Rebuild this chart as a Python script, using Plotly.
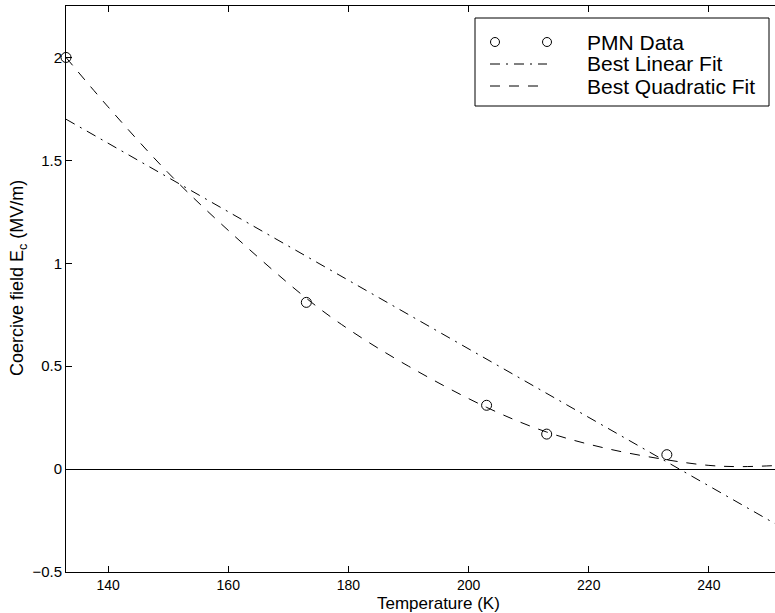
import plotly.graph_objects as go

# ---- data ----
temperature = [133, 173, 203, 213, 233]
coercive_field = [2.00, 0.81, 0.31, 0.17, 0.07]

linear_fit_x = [133, 251]
linear_fit_y = [1.70, -0.265]

quad_fit_x = [133, 140, 150, 160, 173, 180, 190, 203, 213, 223, 233, 240, 245, 251]
quad_fit_y = [2.00, 1.76, 1.44, 1.16, 0.83, 0.68, 0.50, 0.30, 0.18, 0.10, 0.045, 0.018, 0.012, 0.017]

x_ticks = [140, 160, 180, 200, 220, 240]
y_ticks = [-0.5, 0, 0.5, 1, 1.5, 2]
y_tick_text = ["\u22120.5", "0", "0.5", "1", "1.5", "2"]

legend_labels = ["PMN Data", "Best Linear Fit", "Best Quadratic Fit"]

FONT = "Liberation Sans, Arial, Helvetica, sans-serif"
W, H = 775, 613
L, R, T, B = 66, 0, 6, 41
PW, PH = W - L - R, H - T - B


def px(p):
    return (p - L) / PW


def py(p):
    return (H - B - p) / PH


fig = go.Figure()

fig.add_trace(go.Scatter(
    x=linear_fit_x, y=linear_fit_y, mode="lines",
    line=dict(color="black", width=1, dash="10px,6px,2px,6px"),
    showlegend=False, hoverinfo="skip"))

fig.add_trace(go.Scatter(
    x=quad_fit_x, y=quad_fit_y, mode="lines",
    line=dict(color="black", width=1, dash="10px,9px", shape="spline", smoothing=1.0),
    showlegend=False, hoverinfo="skip"))

fig.add_trace(go.Scatter(
    x=temperature, y=coercive_field, mode="markers",
    marker=dict(symbol="circle-open", size=10, color="black", line=dict(width=1)),
    cliponaxis=False, showlegend=False))

# ---- custom MATLAB-style legend ----
shapes = []
box = (475, 18, 769, 106)
shapes.append(dict(type="rect", xref="paper", yref="paper",
                   x0=px(box[0]), x1=px(box[2]), y0=py(box[1]), y1=py(box[3]),
                   line=dict(color="black", width=1), fillcolor="white", layer="above"))
row_y = [42, 64, 86]
for cx in (495, 547):
    shapes.append(dict(type="circle", xref="paper", yref="paper",
                       xsizemode="pixel", ysizemode="pixel",
                       xanchor=px(cx), yanchor=py(row_y[0]),
                       x0=-4.5, x1=4.5, y0=-4.5, y1=4.5,
                       line=dict(color="black", width=1), layer="above"))
shapes.append(dict(type="line", xref="paper", yref="paper",
                   x0=px(490), x1=px(547), y0=py(row_y[1]), y1=py(row_y[1]),
                   line=dict(color="black", width=1, dash="10px,6px,2px,6px"), layer="above"))
shapes.append(dict(type="line", xref="paper", yref="paper",
                   x0=px(490), x1=px(540), y0=py(row_y[2]), y1=py(row_y[2]),
                   line=dict(color="black", width=1, dash="10px,9px"), layer="above"))

annotations = []
for lab, ry in zip(legend_labels, row_y):
    annotations.append(dict(text=lab, xref="paper", yref="paper", x=px(585), y=py(ry),
                            xanchor="left", yanchor="middle", showarrow=False,
                            font=dict(family=FONT, size=21, color="black")))

annotations.append(dict(text="Temperature (K)", xref="paper", yref="paper",
                        x=px(438), y=py(603), xanchor="center", yanchor="middle",
                        showarrow=False, font=dict(family=FONT, size=17, color="black")))
annotations.append(dict(text="Coercive field E<sub>c</sub> (MV/m)", xref="paper", yref="paper",
                        x=px(18), y=py(278), xanchor="center", yanchor="middle", textangle=-90,
                        showarrow=False, font=dict(family=FONT, size=18, color="black")))

fig.update_layout(
    width=W, height=H,
    margin=dict(l=L, r=R, t=T, b=B, pad=0),
    paper_bgcolor="white", plot_bgcolor="white",
    font=dict(family=FONT, size=15, color="black"),
    shapes=shapes, annotations=annotations,
    showlegend=False,
)

fig.update_xaxes(
    range=[133, 251], tickvals=x_ticks, ticks="inside", ticklen=6, tickwidth=1,
    tickcolor="black", showline=True, linecolor="black", linewidth=1, mirror="ticks",
    showgrid=False, zeroline=False, tickfont=dict(size=14))
fig.update_yaxes(
    range=[-0.5, 2.25], tickvals=y_ticks, ticktext=y_tick_text, ticks="inside", ticklen=6,
    tickwidth=1, tickcolor="black", showline=True, linecolor="black", linewidth=1,
    mirror=False, showgrid=False, zeroline=True, zerolinecolor="black", zerolinewidth=1,
    tickfont=dict(size=15))

fig.write_html("out.html", config={"displayModeBar": False},
               post_script="document.body.style.margin='0';")
